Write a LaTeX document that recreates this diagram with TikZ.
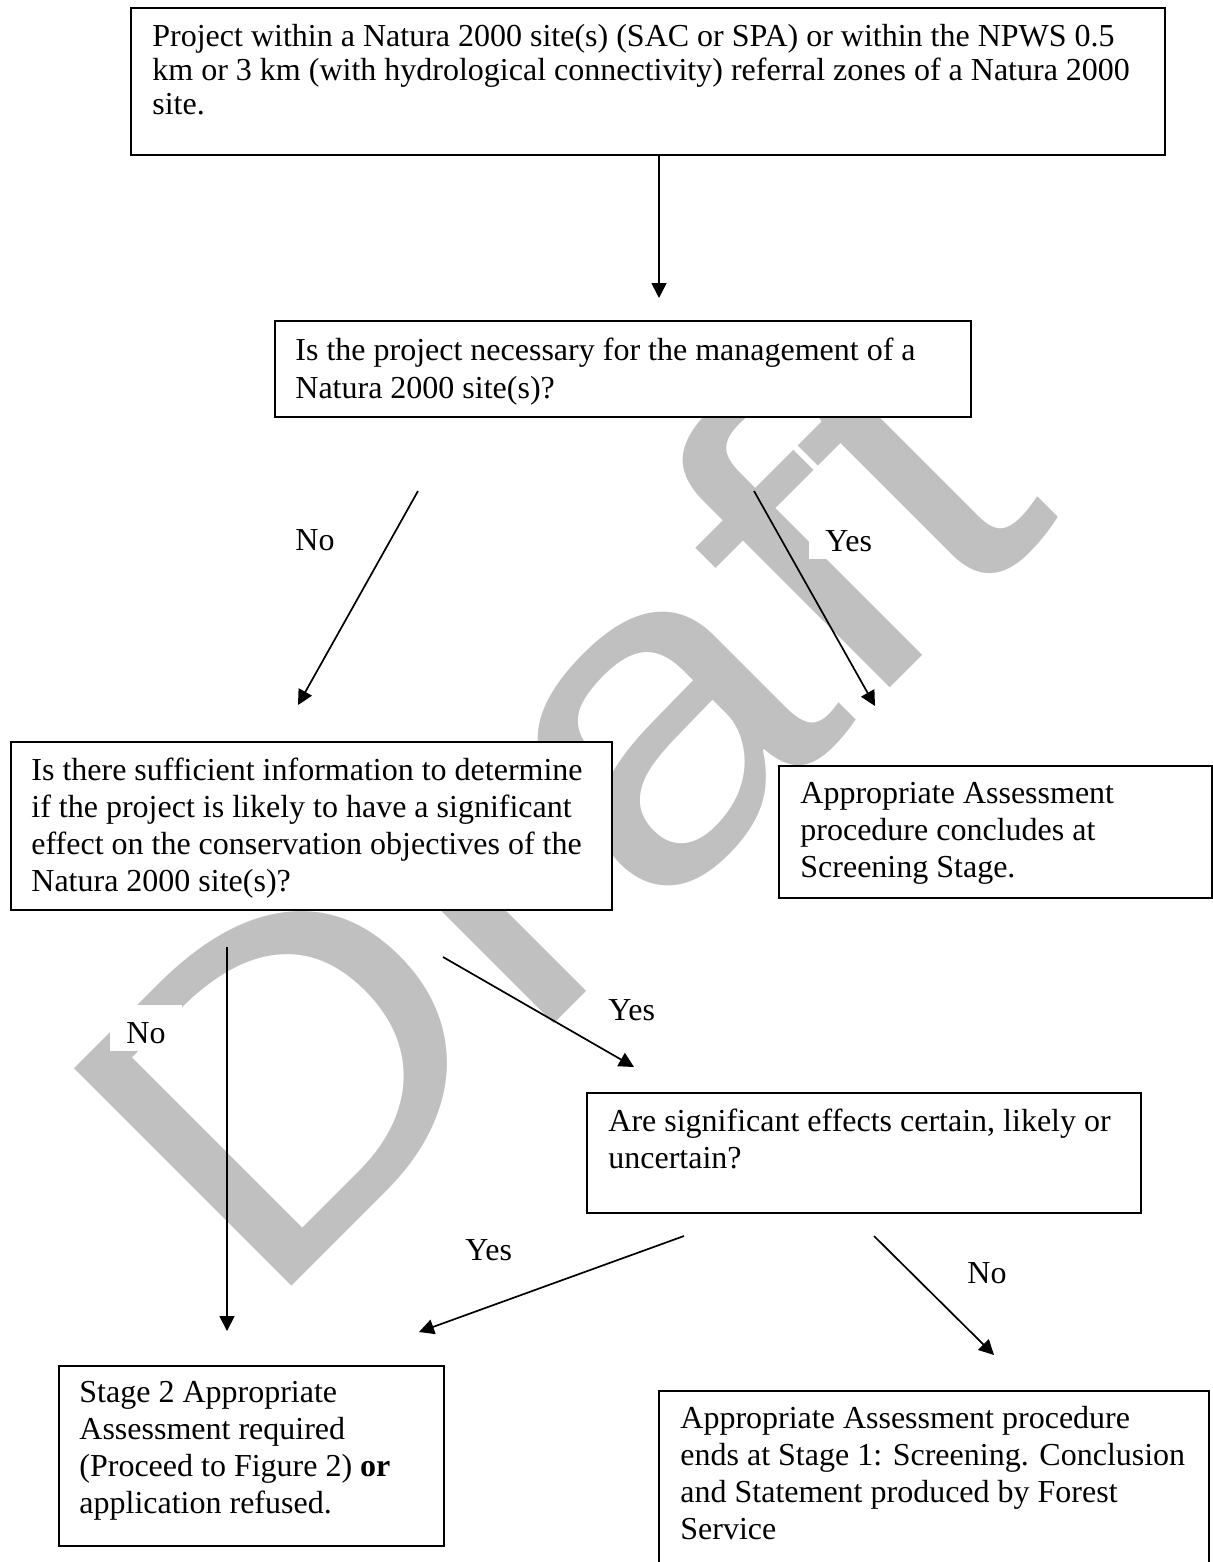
\documentclass[tikz,border=0pt]{standalone}
\usepackage{fontspec}
\setmainfont{Liberation Serif}
\newfontfamily\wmfont{Liberation Sans}
\usetikzlibrary{arrows.meta}
\definecolor{wmgray}{RGB}{192,192,192}
\begin{document}
\begin{tikzpicture}[x=0.5pt,y=-0.5pt,
  box/.style={draw, line width=1pt, fill=white, anchor=north west, inner sep=0pt},
  txt/.style={anchor=base west, inner sep=0pt, align=left},
  lbl/.style={fill=white, anchor=base west, inner xsep=8pt, inner ysep=4pt, text height=15pt, text depth=0pt, font=\fontsize{16}{18}\selectfont},
  arr/.style={line width=0.85pt, -{Triangle[length=7.5pt,width=7.5pt]}}]
\fill[white] (0,0) rectangle (1213,1562);
\useasboundingbox (0,0) rectangle (1213,1562);
% watermark
\node[rotate=45, anchor=base west, inner sep=0pt, text=wmgray, font=\wmfont\fontsize{223.5}{224}\selectfont] (wm) at (261,1317) {\scalebox{1.17}[1]{Draft}};
% boxes
\node[box, minimum width=517pt, minimum height=73.5pt] (b1) at (130,7) {};
\node[box, minimum width=348pt, minimum height=48pt] (b2) at (274,320) {};
\node[box, minimum width=300.5pt, minimum height=84pt] (b3) at (10,741) {};
\node[box, minimum width=216.5pt, minimum height=66pt] (b4) at (778,765) {};
\node[box, minimum width=277pt, minimum height=60pt] (b5) at (586,1092) {};
\node[box, minimum width=192.5pt, minimum height=90pt] (b6) at (58,1365) {};
\node[box, minimum width=275pt, minimum height=93pt] (b7) at (658,1390) {};
% texts (anchored at the baseline of the last line)
\node[txt, font=\fontsize{16}{17}\selectfont] (b1t) at (152,115) {Project within a Natura 2000 site(s) (SAC or SPA) or within the NPWS 0.5\\km or 3 km (with hydrological connectivity) referral zones of a Natura 2000\\site.};
\node[txt, font=\fontsize{16}{19}\selectfont] (b2t) at (295,398) {Is the project necessary for the management of a\\Natura 2000 site(s)?};
\node[txt, font=\fontsize{16}{18.5}\selectfont] (b3t) at (31,891) {Is there sufficient information to determine\\if the project is likely to have a significant\\effect on the conservation objectives of the\\Natura 2000 site(s)?};
\node[txt, font=\fontsize{16}{18.5}\selectfont] (b4t) at (800,877) {Appropriate Assessment\\procedure concludes at\\Screening Stage.};
\node[txt, font=\fontsize{16}{18.5}\selectfont] (b5t) at (608,1168) {Are significant effects certain, likely or\\uncertain?};
\node[txt, font=\fontsize{16}{18.35}\selectfont] (b6t) at (79,1513) {Stage 2 Appropriate\\Assessment required\\(Proceed to Figure 2) \textbf{or}\\application refused.};
\node[txt, font=\fontsize{16}{18.5}\selectfont] (b7t) at (680,1539) {Appropriate Assessment procedure\\ends at Stage 1: Screening. Conclusion\\and Statement produced by Forest\\Service};
% labels
\node[lbl] (l1) at (279,550) {No};
\node[lbl] (l2) at (809,551) {Yes};
\node[lbl] (l3) at (592,1020) {Yes};
\node[lbl] (l4) at (110,1043) {No};
\node[lbl] (l5) at (449,1260) {Yes};
\node[lbl] (l6) at (951,1283) {No};
% arrow end points
\coordinate (t1) at (659,298);
\coordinate (s2) at (418,491);  \coordinate (t2) at (298,705);
\coordinate (s3) at (754,491);  \coordinate (t3) at (875,706);
\coordinate (s4) at (443,957);  \coordinate (t4) at (634,1067);
\coordinate (s5) at (227,947);  \coordinate (t5) at (227,1331);
\coordinate (s6) at (684,1236); \coordinate (t6) at (419,1332);
\coordinate (s7) at (874,1236); \coordinate (t7) at (994,1355);
% arrows
\draw[arr] (b1.south -| t1) -- (t1);
\draw[arr] (s2) -- (t2);
\draw[arr] (s3) -- (t3);
\draw[arr] (s4) -- (t4);
\draw[arr] (s5) -- (t5);
\draw[arr] (s6) -- (t6);
\draw[arr] (s7) -- (t7);
\end{tikzpicture}
\end{document}
